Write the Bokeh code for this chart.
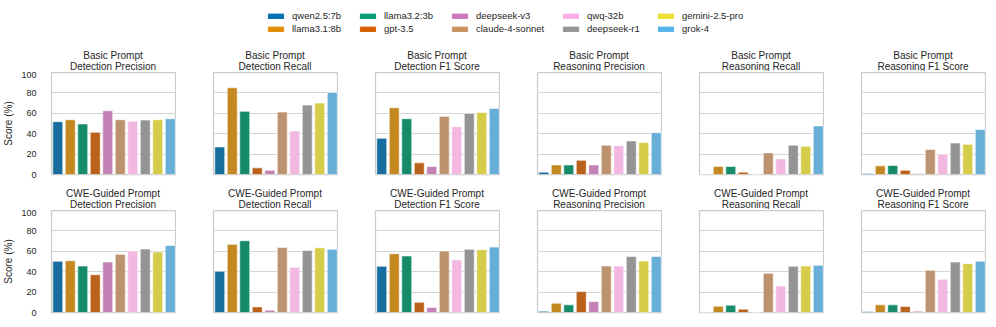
import colorsys
from bokeh.plotting import figure
from bokeh.layouts import column, row
from bokeh.models import ColumnDataSource, FactorRange, Range1d, Legend, LegendItem, Label
from bokeh.embed import file_html
from bokeh.resources import INLINE

# ---------------- data ----------------
models = ["qwen2.5:7b", "llama3.1:8b", "llama3.2:3b", "gpt-3.5", "deepseek-v3",
          "claude-4-sonnet", "qwq-32b", "deepseek-r1", "gemini-2.5-pro", "grok-4"]
palette = ["#0173b2", "#de8f05", "#029e73", "#d55e00", "#cc78bc",
           "#ca9161", "#fbafe4", "#949494", "#ece133", "#56b4e9"]

prompts = ["Basic Prompt", "CWE-Guided Prompt"]
metrics = ["Detection Precision", "Detection Recall", "Detection F1 Score",
           "Reasoning Precision", "Reasoning Recall", "Reasoning F1 Score"]
y_ticks = [0, 20, 40, 60, 80, 100]

basic_det_precision = [51.8, 53.7, 49.5, 41.4, 62.5, 53.7, 52.1, 53.4, 53.7, 54.7]
basic_det_recall = [27.0, 85.0, 61.9, 6.5, 4.2, 61.2, 42.7, 68.1, 70.0, 80.5]
basic_det_f1 = [35.5, 65.5, 54.7, 11.4, 7.8, 57.0, 46.9, 59.9, 60.9, 64.8]
basic_rsn_precision = [2.3, 9.4, 9.4, 14.0, 9.4, 28.7, 28.3, 32.9, 31.3, 41.0]
basic_rsn_recall = [0.0, 7.8, 7.8, 2.3, 0.0, 21.2, 15.3, 28.7, 27.7, 47.6]
basic_rsn_f1 = [1.0, 8.5, 8.8, 4.2, 1.0, 24.4, 19.9, 30.9, 29.6, 44.0]

cwe_det_precision = [50.2, 50.8, 45.6, 37.1, 49.5, 57.0, 60.3, 62.2, 59.3, 65.8]
cwe_det_recall = [40.4, 66.8, 70.4, 5.5, 2.3, 63.8, 44.3, 60.9, 63.5, 61.9]
cwe_det_f1 = [45.3, 57.7, 55.4, 10.1, 4.9, 60.3, 51.5, 61.9, 61.6, 64.2]
cwe_rsn_precision = [1.3, 9.1, 7.5, 20.5, 10.7, 45.6, 45.6, 55.0, 50.5, 55.0]
cwe_rsn_recall = [0.0, 6.2, 7.2, 3.3, 0.0, 38.4, 26.1, 45.3, 45.6, 46.3]
cwe_rsn_f1 = [1.0, 7.5, 7.5, 5.9, 1.3, 41.4, 32.6, 49.5, 47.9, 50.2]

panels = [
    [basic_det_precision, basic_det_recall, basic_det_f1,
     basic_rsn_precision, basic_rsn_recall, basic_rsn_f1],
    [cwe_det_precision, cwe_det_recall, cwe_det_f1,
     cwe_rsn_precision, cwe_rsn_recall, cwe_rsn_f1],
]

# ---------------- style ----------------
FONT = "Liberation Sans"
TEXT = "#262626"
GRID = "#d4d4d4"
EDGE = "#cccccc"
FRAME_W, FRAME_H = 125, 102
LEFT0, GAP = 50, 37
TOTAL_W = LEFT0 + FRAME_W + 5 * (GAP + FRAME_W)
TITLE_H = 27


def desaturate(hexcol, prop=0.75):
    r, g, b = (int(hexcol[i:i + 2], 16) / 255 for i in (1, 3, 5))
    h, l, s = colorsys.rgb_to_hls(r, g, b)
    r, g, b = colorsys.hls_to_rgb(h, l, s * prop)
    return "#%02x%02x%02x" % (round(r * 255), round(g * 255), round(b * 255))


bar_colors = [desaturate(c) for c in palette]


def blank_fig(height):
    f = figure(width=TOTAL_W, height=height, toolbar_location=None,
               output_backend="svg", min_border=0,
               x_range=Range1d(0, 1), y_range=Range1d(0, 1))
    f.xaxis.visible = False
    f.yaxis.visible = False
    f.xgrid.visible = False
    f.ygrid.visible = False
    f.outline_line_color = None
    return f


# ---------------- legend ----------------
leg_fig = blank_fig(44)
renderers = []
for c in palette:
    r = leg_fig.vbar(x=[50], top=[60], bottom=[50], width=0.8, fill_color=c, line_color=c)
    renderers.append(r)

col_x = [266, 358, 450, 561, 656]
for k, x0 in enumerate(col_x):
    items = [LegendItem(label=models[2 * k + j], renderers=[renderers[2 * k + j]]) for j in range(2)]
    lg = Legend(items=items, location=(x0, 10), orientation="vertical",
                label_text_font=FONT, label_text_font_size="9.5px",
                label_text_color=TEXT, glyph_width=19, glyph_height=6,
                label_height=9, label_standoff=7, spacing=2, padding=0, margin=0,
                border_line_color=None, background_fill_alpha=0)
    leg_fig.add_layout(lg)

# ---------------- panels ----------------
blocks = [leg_fig]
for ri, prompt in enumerate(prompts):
    # title strip above the row of panels
    tfig = blank_fig(TITLE_H)
    for ci, metric in enumerate(metrics):
        cx = LEFT0 + ci * (GAP + FRAME_W) + FRAME_W / 2
        for txt, dy in ((prompt, 15.7), (metric, 5.4)):
            tfig.add_layout(Label(x=cx, y=dy, x_units="screen", y_units="screen",
                                  text=txt, text_align="center", text_baseline="alphabetic",
                                  text_font=FONT, text_font_size="10px", text_color=TEXT))
    blocks.append(tfig)

    figs = []
    for ci, metric in enumerate(metrics):
        p = figure(x_range=FactorRange(*models), y_range=Range1d(0, 100),
                   frame_width=FRAME_W, frame_height=FRAME_H,
                   toolbar_location=None, output_backend="svg")
        p.min_border_top = 1
        p.min_border_right = 0
        p.min_border_left = LEFT0 if ci == 0 else GAP
        p.min_border_bottom = 8 if ri == 0 else 13
        src = ColumnDataSource(dict(model=models, score=panels[ri][ci], color=bar_colors))
        p.vbar(x="model", top="score", width=0.8, source=src,
               fill_color="color", line_color="white", line_width=0.6)
        p.title = None
        p.xaxis.visible = False
        p.xgrid.visible = False
        p.yaxis.ticker = y_ticks
        p.ygrid.grid_line_color = GRID
        p.ygrid.grid_line_width = 1
        p.outline_line_color = EDGE
        p.outline_line_width = 1.25
        p.yaxis.major_tick_line_color = None
        p.yaxis.minor_tick_line_color = None
        p.yaxis.axis_line_color = None
        p.yaxis.major_label_text_font = FONT
        p.yaxis.major_label_text_font_size = "9px"
        p.yaxis.major_label_text_color = TEXT
        p.yaxis.major_label_standoff = 9
        if ci == 0:
            p.yaxis.axis_label = "Score (%)"
            p.yaxis.axis_label_text_font = FONT
            p.yaxis.axis_label_text_font_size = "10px"
            p.yaxis.axis_label_text_font_style = "normal"
            p.yaxis.axis_label_text_color = TEXT
            p.yaxis.axis_label_standoff = 4
        else:
            p.yaxis.visible = False
        figs.append(p)
    blocks.append(row(*figs, spacing=0))

layout = column(*blocks, spacing=0)
open("out.html", "w").write(file_html(layout, INLINE))
